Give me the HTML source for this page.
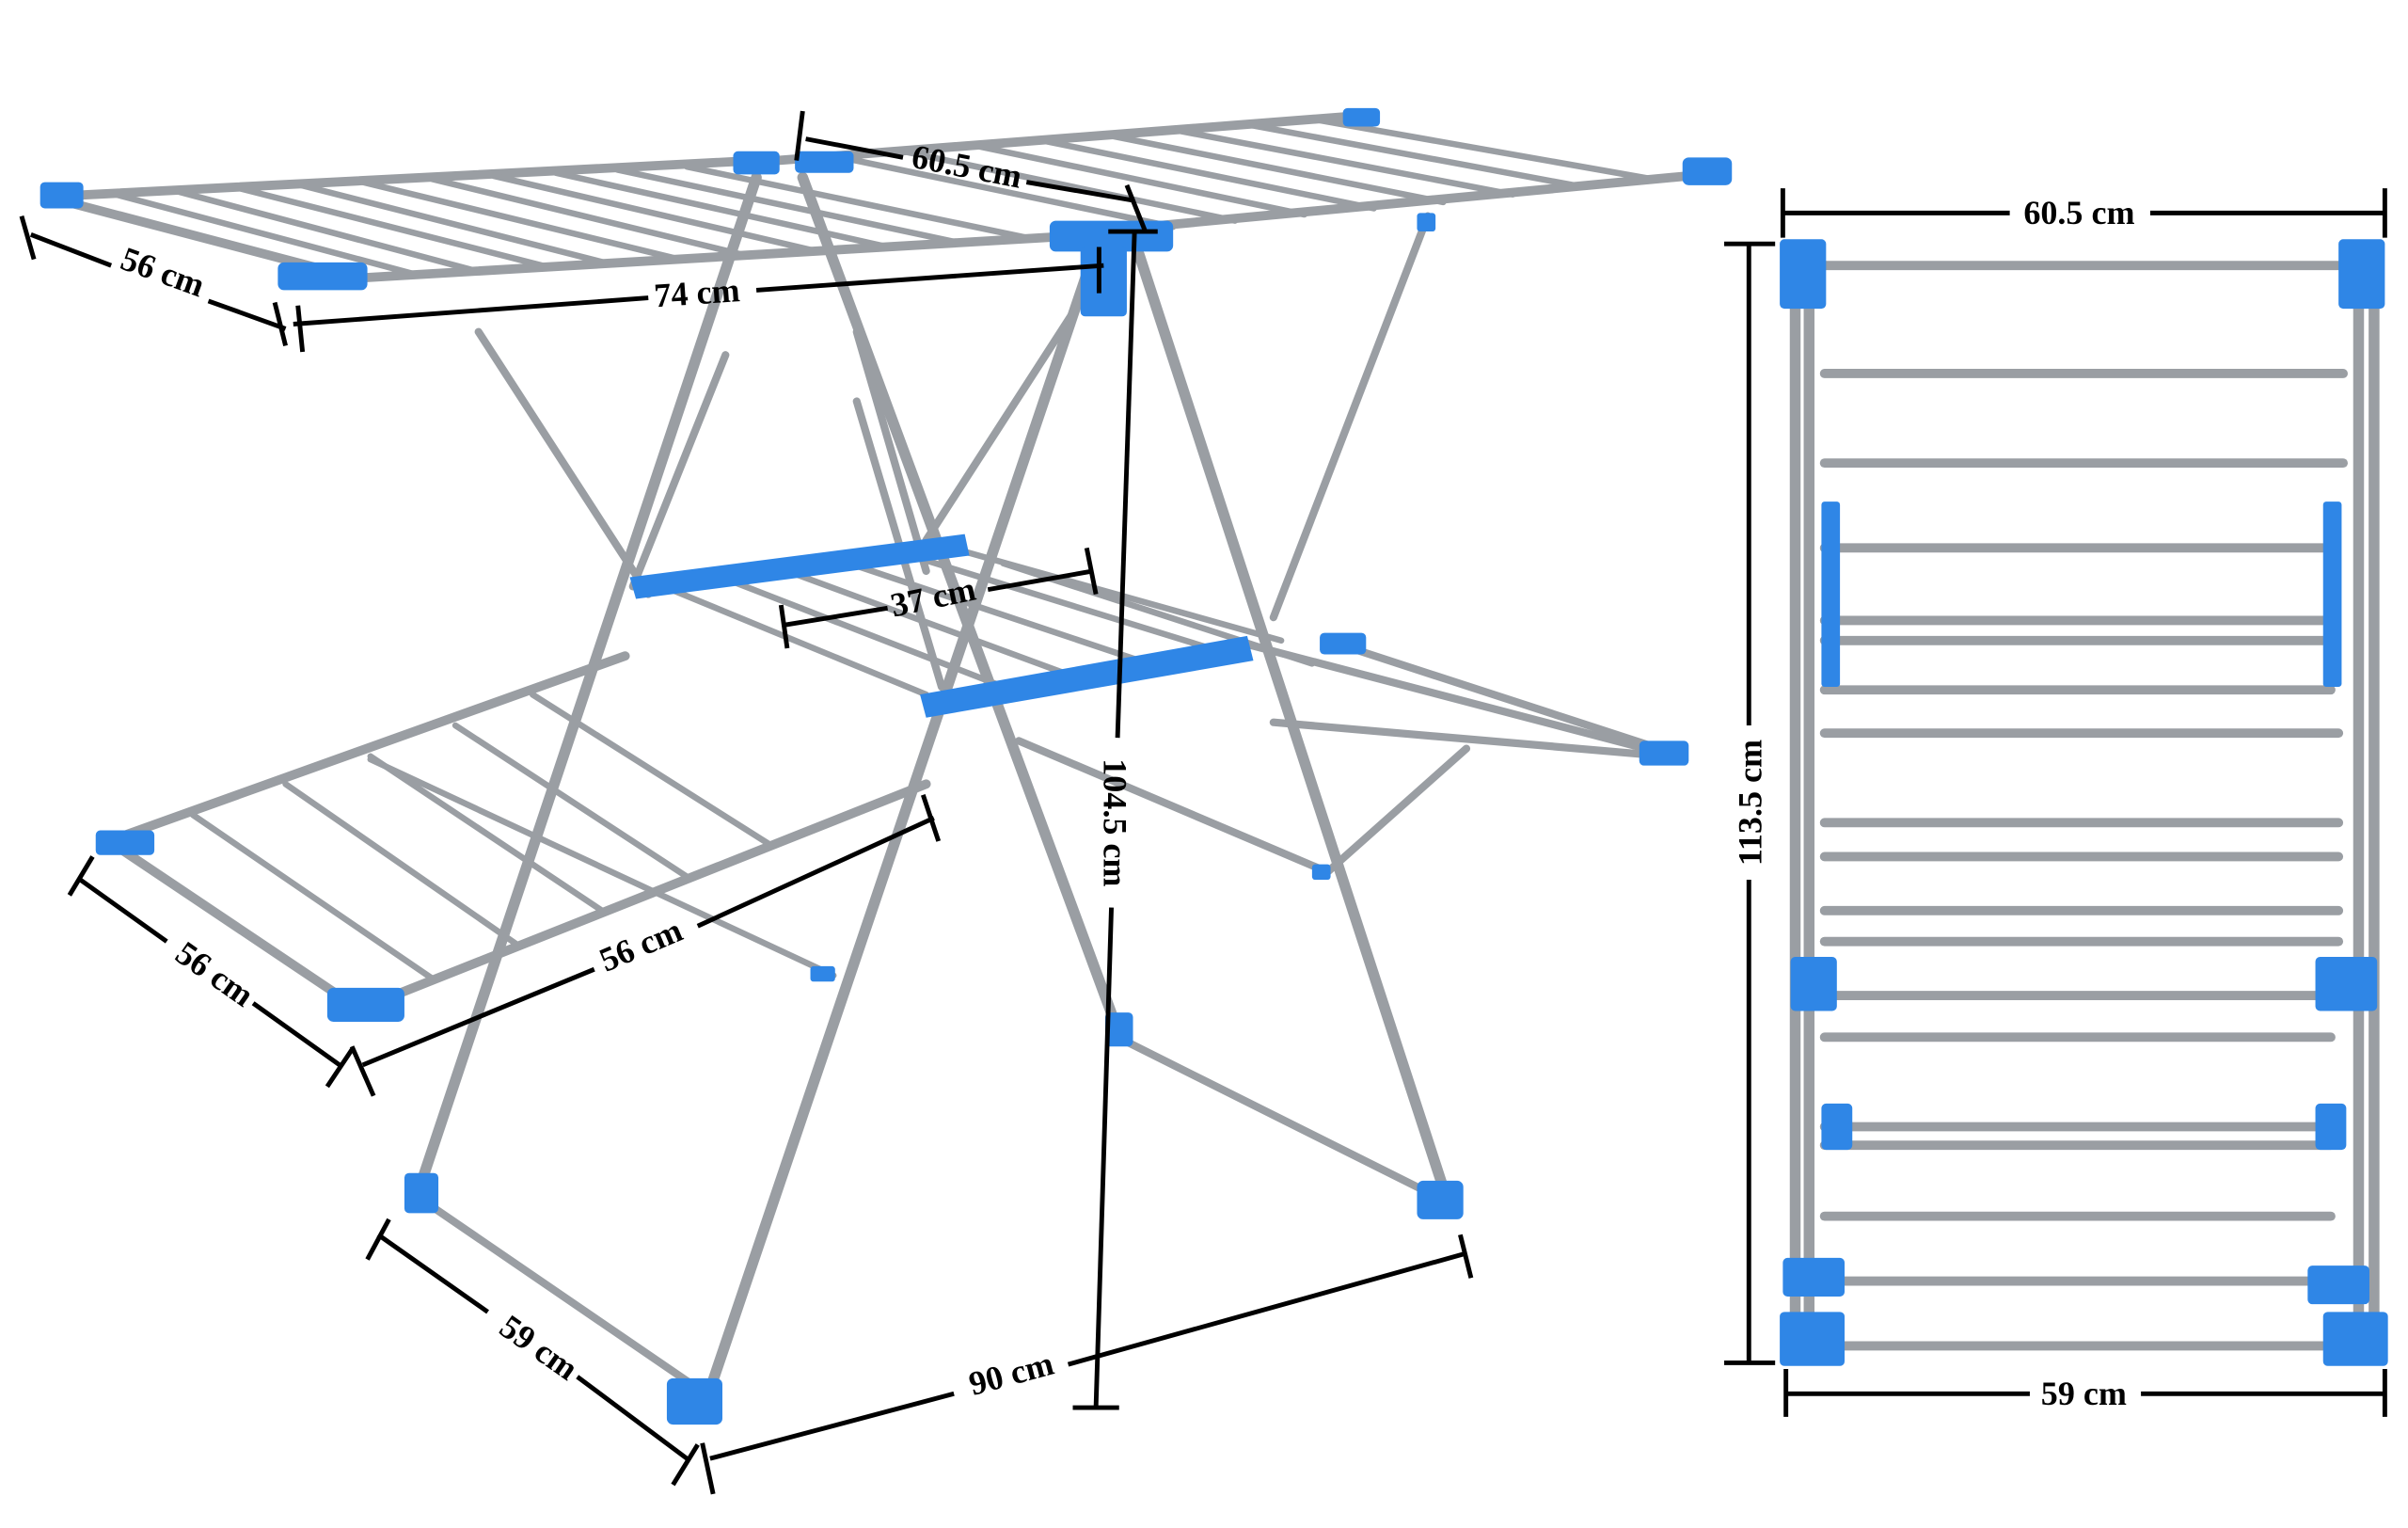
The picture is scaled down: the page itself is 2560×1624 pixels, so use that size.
<!DOCTYPE html>
<html><head><meta charset="utf-8"><style>
html,body{margin:0;padding:0;background:#fff;width:2560px;height:1624px;overflow:hidden}
svg{display:block}
text{font-family:"Liberation Serif",serif;font-weight:bold;font-size:22px;fill:#000}
</style></head><body>
<svg width="2560" height="1624" viewBox="0 0 1560 990" preserveAspectRatio="none" xmlns="http://www.w3.org/2000/svg">
<rect width="1560" height="990" fill="#fff"/>
<g stroke="#9a9ea3" stroke-linecap="round" fill="none">
<g stroke-width="7">
<line x1="710" y1="160" x2="455" y2="915"/>
<line x1="738" y1="165" x2="940" y2="785"/>
<line x1="490" y1="115" x2="270" y2="775"/>
<line x1="520" y1="115" x2="725" y2="670"/>
</g>
<g stroke-width="5">
<line x1="310" y1="215" x2="420" y2="385"/>
<line x1="555" y1="215" x2="600" y2="370"/>
<line x1="470" y1="230" x2="410" y2="380"/>
<line x1="600" y1="350" x2="700" y2="195"/>
<line x1="825" y1="400" x2="925" y2="140"/>
<line x1="555" y1="260" x2="610" y2="445"/>
<line x1="660" y1="480" x2="860" y2="565"/>
<line x1="860" y1="565" x2="950" y2="485"/>
<line x1="720" y1="670" x2="940" y2="780"/>
<line x1="270" y1="775" x2="460" y2="905"/>
</g>
<g stroke-width="6">
<line x1="40" y1="127" x2="490" y2="104"/>
<line x1="235" y1="180" x2="710" y2="152"/>
<line x1="40" y1="130" x2="230" y2="180"/>
<line x1="490" y1="105" x2="880" y2="75"/>
<line x1="710" y1="150" x2="1115" y2="112"/>
</g>
<g stroke-width="4">
<line x1="75" y1="126" x2="270" y2="178"/><line x1="115" y1="124" x2="310" y2="176"/>
<line x1="155" y1="122" x2="355" y2="173"/><line x1="195" y1="120" x2="395" y2="171"/>
<line x1="235" y1="118" x2="440" y2="168"/><line x1="280" y1="116" x2="485" y2="166"/>
<line x1="320" y1="114" x2="530" y2="163"/><line x1="360" y1="112" x2="575" y2="160"/>
<line x1="400" y1="110" x2="620" y2="157"/><line x1="445" y1="108" x2="665" y2="154"/>
<line x1="540" y1="101" x2="760" y2="147"/><line x1="585" y1="98" x2="800" y2="143"/>
<line x1="630" y1="94" x2="845" y2="139"/><line x1="675" y1="91" x2="890" y2="135"/>
<line x1="720" y1="88" x2="935" y2="131"/><line x1="765" y1="85" x2="980" y2="126"/>
<line x1="810" y1="81" x2="1025" y2="121"/><line x1="855" y1="78" x2="1070" y2="116"/>
</g>
<g stroke-width="4">
<line x1="430" y1="380" x2="600" y2="450"/><line x1="470" y1="375" x2="650" y2="445"/>
<line x1="510" y1="370" x2="700" y2="440"/><line x1="550" y1="365" x2="750" y2="432"/>
<line x1="590" y1="360" x2="800" y2="425"/><line x1="620" y1="356" x2="830" y2="415"/>
<line x1="650" y1="365" x2="850" y2="430"/>
</g>
<g stroke-width="5">
<line x1="810" y1="418" x2="1085" y2="490"/><line x1="825" y1="468" x2="1080" y2="490"/>
<line x1="860" y1="415" x2="1075" y2="485"/>
</g>
<g stroke-width="6">
<line x1="70" y1="545" x2="405" y2="425"/>
<line x1="230" y1="655" x2="600" y2="508"/>
<line x1="75" y1="548" x2="230" y2="652"/>
</g>
<g stroke-width="4">
<line x1="125" y1="528" x2="280" y2="634"/><line x1="185" y1="508" x2="335" y2="612"/>
<line x1="240" y1="490" x2="390" y2="590"/><line x1="295" y1="470" x2="445" y2="568"/>
<line x1="345" y1="450" x2="500" y2="548"/><line x1="240" y1="492" x2="540" y2="632"/>
</g>
</g>
<g fill="#2f86e6">
<rect x="26" y="118" width="28" height="17" rx="3"/>
<rect x="180" y="170" width="58" height="18" rx="4"/>
<rect x="475" y="98" width="30" height="15" rx="3"/>
<rect x="515" y="98" width="38" height="14" rx="3"/>
<rect x="680" y="143" width="80" height="20" rx="4"/>
<rect x="700" y="160" width="30" height="45" rx="3"/>
<rect x="870" y="70" width="24" height="12" rx="3"/>
<rect x="1090" y="102" width="32" height="18" rx="4"/>
<polygon points="408,374 625,346 628,360 412,388"/>
<polygon points="596,450 808,412 812,428 600,465"/>
<rect x="62" y="538" width="38" height="16" rx="3"/>
<rect x="212" y="640" width="50" height="22" rx="4"/>
<rect x="855" y="410" width="30" height="14" rx="3"/>
<rect x="1062" y="480" width="32" height="16" rx="3"/>
<rect x="262" y="760" width="22" height="26" rx="3"/>
<rect x="432" y="893" width="36" height="30" rx="4"/>
<rect x="716" y="656" width="18" height="22" rx="3"/>
<rect x="918" y="765" width="30" height="25" rx="4"/>
<rect x="525" y="626" width="16" height="10" rx="2"/>
<rect x="850" y="560" width="12" height="10" rx="2"/>
<rect x="918" y="138" width="12" height="12" rx="2"/>
</g>
<g stroke="#9a9ea3" stroke-linecap="round">
<g stroke-width="7">
<line x1="1163" y1="160" x2="1163" y2="880"/><line x1="1172" y1="160" x2="1172" y2="880"/>
<line x1="1528" y1="160" x2="1528" y2="880"/><line x1="1538" y1="160" x2="1538" y2="880"/>
</g>
<g stroke-width="6">
<line x1="1175" y1="172" x2="1520" y2="172"/><line x1="1182" y1="242" x2="1518" y2="242"/>
<line x1="1182" y1="300" x2="1518" y2="300"/><line x1="1182" y1="355" x2="1510" y2="355"/>
<line x1="1182" y1="402" x2="1510" y2="402"/><line x1="1182" y1="415" x2="1510" y2="415"/>
<line x1="1182" y1="447" x2="1510" y2="447"/><line x1="1182" y1="475" x2="1515" y2="475"/>
<line x1="1182" y1="533" x2="1515" y2="533"/><line x1="1182" y1="555" x2="1515" y2="555"/>
<line x1="1182" y1="590" x2="1515" y2="590"/><line x1="1182" y1="610" x2="1515" y2="610"/>
<line x1="1182" y1="645" x2="1515" y2="645"/><line x1="1182" y1="672" x2="1510" y2="672"/>
<line x1="1182" y1="730" x2="1510" y2="730"/><line x1="1182" y1="742" x2="1510" y2="742"/>
<line x1="1182" y1="788" x2="1510" y2="788"/><line x1="1182" y1="830" x2="1510" y2="830"/>
<line x1="1182" y1="872" x2="1520" y2="872"/>
</g>
</g>
<g fill="#2f86e6">
<rect x="1153" y="155" width="30" height="45" rx="3"/><rect x="1515" y="155" width="30" height="45" rx="3"/>
<rect x="1180" y="325" width="12" height="120" rx="2"/><rect x="1505" y="325" width="12" height="120" rx="2"/>
<rect x="1160" y="620" width="30" height="35" rx="3"/><rect x="1500" y="620" width="40" height="35" rx="3"/>
<rect x="1180" y="715" width="20" height="30" rx="3"/><rect x="1500" y="715" width="20" height="30" rx="3"/>
<rect x="1155" y="815" width="40" height="25" rx="3"/><rect x="1495" y="820" width="40" height="25" rx="3"/>
<rect x="1153" y="850" width="42" height="35" rx="3"/><rect x="1505" y="850" width="42" height="35" rx="3"/>
</g>
<g stroke="#000" stroke-width="3" fill="none">
<line x1="20" y1="152" x2="72" y2="172"/><line x1="135" y1="195" x2="185" y2="213"/>
<line x1="14" y1="140" x2="22" y2="168"/><line x1="178" y1="196" x2="185" y2="224"/>
<line x1="190" y1="210" x2="420" y2="193"/><line x1="490" y1="188" x2="715" y2="172"/>
<line x1="193" y1="198" x2="196" y2="228"/><line x1="712" y1="160" x2="712" y2="190"/>
<line x1="522" y1="90" x2="585" y2="102"/><line x1="665" y1="118" x2="735" y2="130"/>
<line x1="520" y1="72" x2="516" y2="104"/><line x1="730" y1="120" x2="742" y2="150"/>
<line x1="735" y1="150" x2="724" y2="478"/><line x1="720" y1="588" x2="710" y2="912"/>
<line x1="718" y1="150" x2="750" y2="150"/><line x1="695" y1="912" x2="725" y2="912"/>
<line x1="508" y1="405" x2="575" y2="394"/><line x1="640" y1="382" x2="708" y2="370"/>
<line x1="506" y1="392" x2="510" y2="420"/><line x1="704" y1="355" x2="710" y2="385"/>
<line x1="235" y1="690" x2="385" y2="628"/><line x1="452" y1="600" x2="605" y2="530"/>
<line x1="228" y1="678" x2="242" y2="710"/><line x1="598" y1="515" x2="608" y2="545"/>
<line x1="52" y1="570" x2="108" y2="610"/><line x1="164" y1="650" x2="220" y2="690"/>
<line x1="45" y1="580" x2="60" y2="555"/><line x1="212" y1="704" x2="228" y2="680"/>
<line x1="245" y1="800" x2="316" y2="850"/><line x1="374" y1="892" x2="445" y2="945"/>
<line x1="238" y1="816" x2="252" y2="790"/><line x1="436" y1="962" x2="452" y2="936"/>
<line x1="460" y1="945" x2="618" y2="903"/><line x1="692" y1="884" x2="950" y2="812"/>
<line x1="455" y1="935" x2="462" y2="968"/><line x1="946" y1="800" x2="953" y2="828"/>
<line x1="1155" y1="138" x2="1302" y2="138"/><line x1="1393" y1="138" x2="1545" y2="138"/>
<line x1="1155" y1="122" x2="1155" y2="154"/><line x1="1545" y1="122" x2="1545" y2="154"/>
<line x1="1133" y1="158" x2="1133" y2="470"/><line x1="1133" y1="570" x2="1133" y2="883"/>
<line x1="1117" y1="158" x2="1150" y2="158"/><line x1="1117" y1="883" x2="1150" y2="883"/>
<line x1="1157" y1="903" x2="1315" y2="903"/><line x1="1387" y1="903" x2="1545" y2="903"/>
<line x1="1157" y1="887" x2="1157" y2="918"/><line x1="1545" y1="887" x2="1545" y2="918"/>
</g>
<text x="103" y="183" text-anchor="middle" transform="rotate(20 103 183)">56 cm</text>
<text x="452" y="197" text-anchor="middle" transform="rotate(-4 452 197)">74 cm</text>
<text x="625" y="115" text-anchor="middle" transform="rotate(11 625 115)">60.5 cm</text>
<text x="715" y="533" text-anchor="middle" transform="rotate(90 715 533)">104.5 cm</text>
<text x="606" y="394" text-anchor="middle" transform="rotate(-12 606 394)">37 cm</text>
<text x="418" y="619" text-anchor="middle" transform="rotate(-23 418 619)">56 cm</text>
<text x="135" y="637" text-anchor="middle" transform="rotate(35 135 637)">56 cm</text>
<text x="345" y="879" text-anchor="middle" transform="rotate(35 345 879)">59 cm</text>
<text x="657" y="897" text-anchor="middle" transform="rotate(-15 657 897)">90 cm</text>
<text x="1347" y="145" text-anchor="middle">60.5 cm</text>
<text x="1141" y="520" text-anchor="middle" transform="rotate(-90 1141 520)">113.5 cm</text>
<text x="1350" y="910" text-anchor="middle">59 cm</text>
</svg>
</body></html>
